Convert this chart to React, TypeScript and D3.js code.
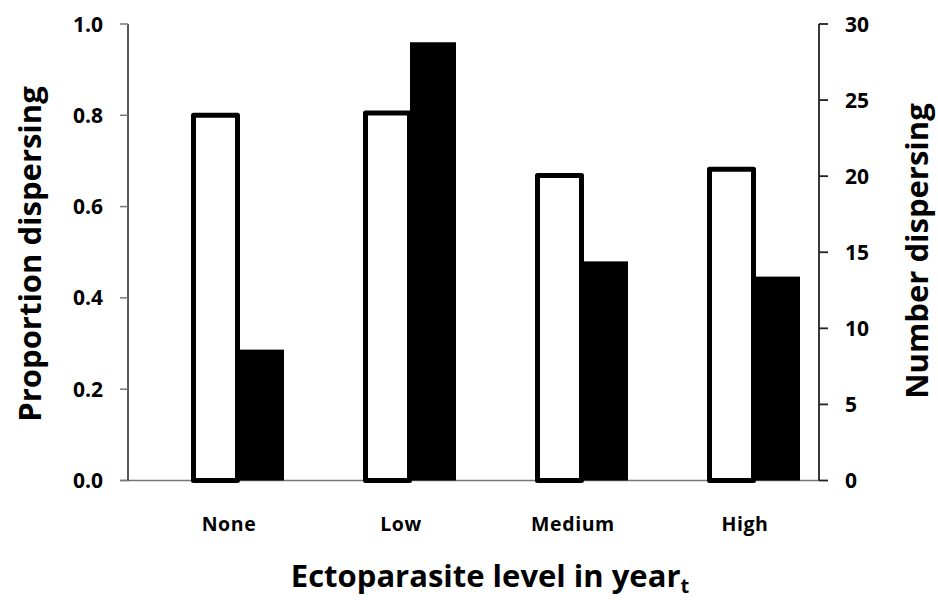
import React from "react";
import * as d3 from "d3";

const categories = ["None", "Low", "Medium", "High"];
const proportion = [0.8, 0.805, 0.668, 0.682];
const numberDispersing = [8.6, 28.8, 14.4, 13.4];
const leftTicks = [0, 0.2, 0.4, 0.6, 0.8, 1.0];
const rightTicks = [0, 5, 10, 15, 20, 25, 30];

const W = 938, H = 600;
const FONT = "'Open Sans', Lato, sans-serif";

export default function App() {
  const yL = d3.scaleLinear().domain([0, 1]).range([480.5, 24]);
  const yR = d3.scaleLinear().domain([0, 30]).range([480.5, 24]);
  const x = d3.scalePoint<string>().domain(categories).range([238, 754]);
  const bw = 45;
  const axL = 128, axR = 819;
  return (
    <svg width={W} height={H} style={{ position: "absolute", left: 0, top: 0, background: "#fff" }}>
      {/* x axis line */}
      <line x1={120} x2={axR} y1={yL(0)} y2={yL(0)} stroke="#777" strokeWidth={1.5} />
      {/* left axis */}
      <line x1={axL} x2={axL} y1={yL(1)} y2={yL(0)} stroke="#222" strokeWidth={1.5} />
      {leftTicks.map((t) => (
        <g key={t}>
          <line x1={120} x2={axL} y1={yL(t)} y2={yL(t)} stroke="#777" strokeWidth={1.5} />
          <text x={103} y={yL(t)} dy="0.36em" textAnchor="end" fontFamily={FONT} fontWeight="bold" fontSize={21}>
            {d3.format(".1f")(t)}
          </text>
        </g>
      ))}
      {/* right axis */}
      <line x1={axR} x2={axR} y1={yR(30)} y2={yR(0)} stroke="#222" strokeWidth={1.8} />
      {rightTicks.map((t) => (
        <g key={t}>
          <line x1={axR} x2={828} y1={yR(t)} y2={yR(t)} stroke="#222" strokeWidth={1.8} />
          <text x={845} y={yR(t)} dy="0.36em" textAnchor="start" fontFamily={FONT} fontWeight="bold" fontSize={21}>
            {t}
          </text>
        </g>
      ))}
      {/* bars */}
      {categories.map((c, i) => {
        const cx = x(c) as number;
        return (
          <g key={c}>
            <rect x={cx - bw + 0.5} y={yL(proportion[i])} width={bw - 1} height={yL(0) - yL(proportion[i])}
              fill="#fff" stroke="#000" strokeWidth={5} strokeLinejoin="round" />
            <rect x={cx} y={yR(numberDispersing[i])} width={bw + 1} height={yR(0) - yR(numberDispersing[i])}
              fill="#000" />
          </g>
        );
      })}
      {/* category labels */}
      {categories.map((c) => (
        <text key={c} x={(x(c) as number) - 9} y={531} textAnchor="middle" fontFamily={FONT} fontWeight="bold"
          fontSize={19.5} letterSpacing={0.6}>
          {c}
        </text>
      ))}
      {/* axis titles */}
      <text transform={`translate(41,254) rotate(-90)`} textAnchor="middle" fontFamily={FONT} fontWeight="bold" fontSize={31}>
        Proportion dispersing
      </text>
      <text transform={`translate(928,251) rotate(-90)`} textAnchor="middle" fontFamily={FONT} fontWeight="bold" fontSize={31}>
        Number dispersing
      </text>
      <text x={490} y={587} textAnchor="middle" fontFamily={FONT} fontWeight="bold" fontSize={31}>
        Ectoparasite level in year
        <tspan fontSize={20} dy={6}>t</tspan>
      </text>
    </svg>
  );
}
